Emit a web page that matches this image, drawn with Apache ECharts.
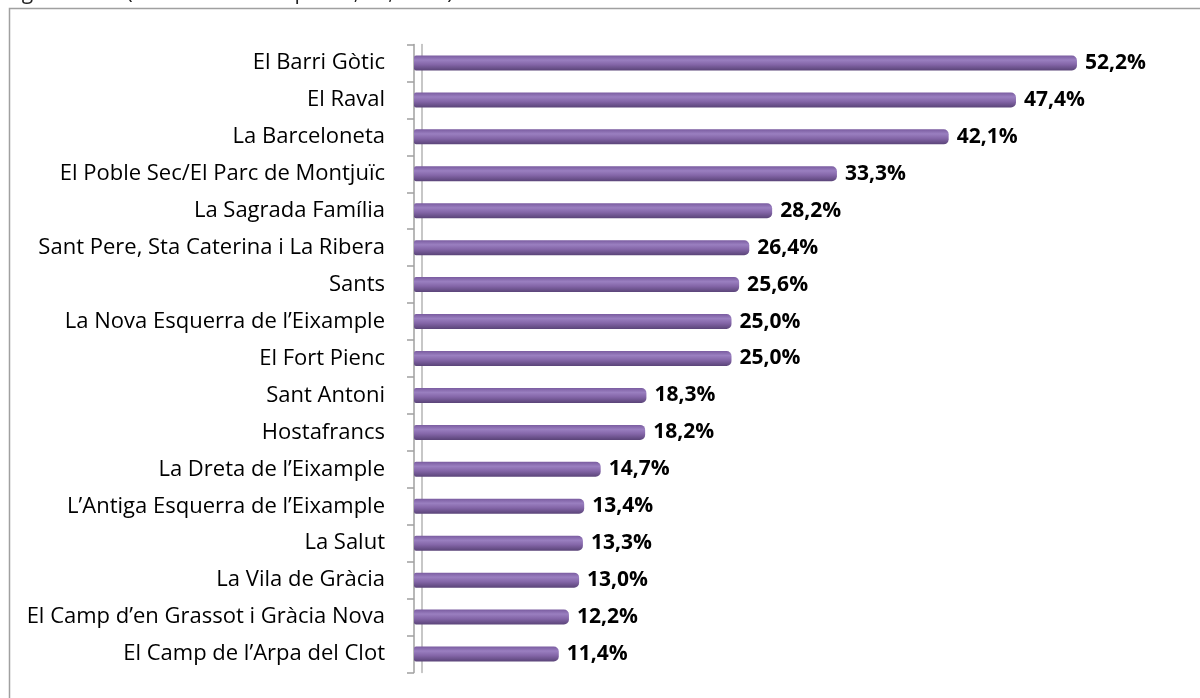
<!DOCTYPE html>
<html><head><meta charset="utf-8">
<script src="https://cdn.jsdelivr.net/npm/echarts@6/dist/echarts.min.js"></script>
<style>html,body{margin:0;padding:0;background:#fff}#c{width:1200px;height:698px}</style>
</head><body><div id="c"></div>
<script>
const categories = [
  "El Barri Gòtic","El Raval","La Barceloneta","El Poble Sec/El Parc de Montjuïc",
  "La Sagrada Família","Sant Pere, Sta Caterina i La Ribera","Sants",
  "La Nova Esquerra de l’Eixample","El Fort Pienc","Sant Antoni","Hostafrancs",
  "La Dreta de l’Eixample","L’Antiga Esquerra de l’Eixample","La Salut",
  "La Vila de Gràcia","El Camp d’en Grassot i Gràcia Nova","El Camp de l’Arpa del Clot"
];
const values = [52.2,47.4,42.1,33.3,28.2,26.4,25.6,25.0,25.0,18.3,18.2,14.7,13.4,13.3,13.0,12.2,11.4];
const headerText = "segons barri (resultats de l’enquesta, 6a, 2011)";

const chart = echarts.init(document.getElementById('c'));
const font = "'Open Sans','Noto Sans',sans-serif";
chart.setOption({
  animation:false,
  graphic:[
    {type:'rect',shape:{x:9.5,y:8.5,width:1200,height:700},style:{fill:'none',stroke:'#a0a0a0',lineWidth:1.5}},
    {type:'text',left:0,top:-17,style:{text:headerText,font:"21px 'Open Sans',sans-serif",fill:'#222'}}
  ],
  grid:{left:414,right:24,top:44.5,height:628},
  xAxis:{type:'value',min:0,max:60,show:false},
  yAxis:[{
    type:'category',data:categories,inverse:true,offset:4,
    axisLine:{show:true,lineStyle:{color:'#a0a0a0',width:1.5}},
    axisTick:{show:true,length:7,lineStyle:{color:'#a0a0a0',width:1.5}},
    axisLabel:{color:'#000',fontSize:22,fontFamily:font,margin:25}
  },{
    type:'category',data:categories,inverse:true,position:'left',offset:-8,
    axisLine:{show:true,lineStyle:{color:'#b4b4b4',width:1.5}},
    axisTick:{show:false},axisLabel:{show:false}
  }],
  series:[{
    type:'bar',data:values,barWidth:15,
    itemStyle:{
      borderRadius:[2,5,5,2],
      color:new echarts.graphic.LinearGradient(0,0,0,1,[
        {offset:0,color:'#7a5ca0'},
        {offset:0.3,color:'#9a7fc0'},
        {offset:0.6,color:'#8466a8'},
        {offset:1,color:'#5a4478'}
      ])
    },
    label:{show:true,position:'right',distance:8,
      formatter:p=>p.value.toFixed(1).replace('.',',')+'%',
      color:'#000',fontWeight:'bold',fontSize:21,fontFamily:font}
  }]
});
</script></body></html>
